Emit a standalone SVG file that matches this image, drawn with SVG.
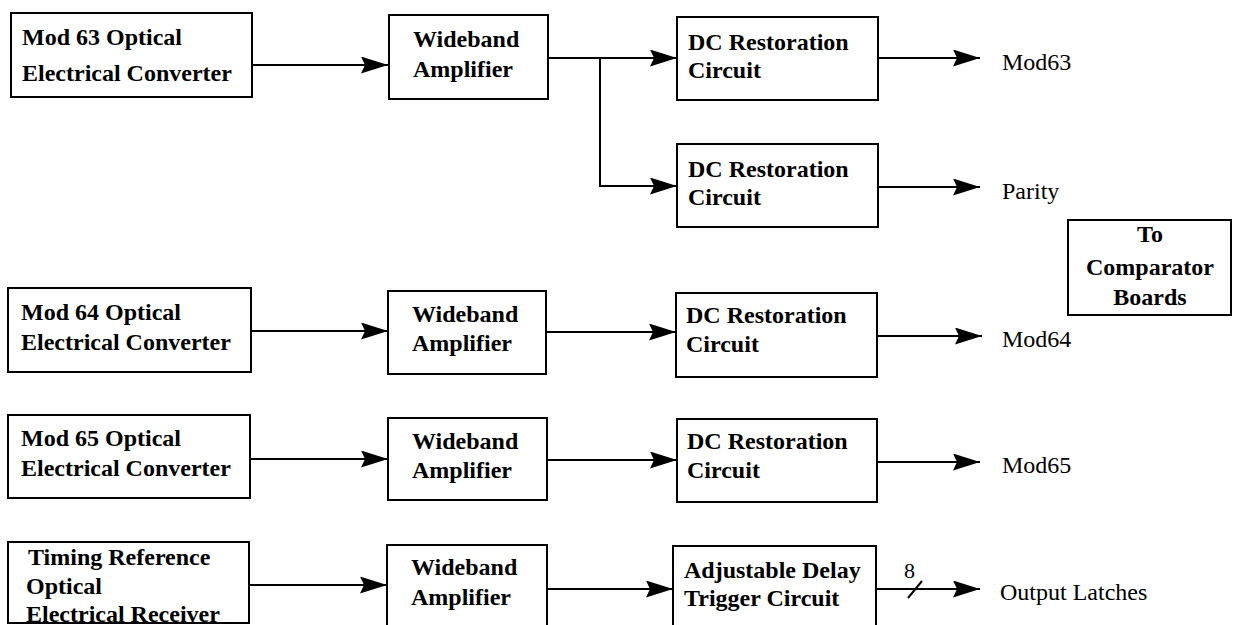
<svg xmlns="http://www.w3.org/2000/svg" width="1233" height="625" viewBox="0 0 1233 625">
<style>
.box{fill:#fff;stroke:#000;stroke-width:2}
.b{font-family:"Liberation Serif","Times New Roman",serif;font-weight:bold;font-size:24px;fill:#000}
.r{font-family:"Liberation Serif","Times New Roman",serif;font-size:24px;fill:#000}
.c{stroke:#000;stroke-width:2;fill:none}
.a{marker-end:url(#ah)}
</style>
<defs>
<marker id="ah" markerUnits="userSpaceOnUse" viewBox="0 0 27 17" refX="27" refY="8.5" markerWidth="27" markerHeight="17" orient="auto">
<path d="M0,0 L27,8.5 L0,17 L4,8.5 Z" fill="#000"/>
</marker>
</defs>
<rect width="1233" height="625" fill="#fff"/>
<g id="connectors">
<path class="c a" d="M252,65 H388"/>
<path class="c a" d="M548,58 H677"/>
<path class="c a" d="M600,58 V186 H677"/>
<path class="c a" d="M878,58 H980"/>
<path class="c a" d="M878,187 H980"/>
<path class="c a" d="M251,331 H388"/>
<path class="c a" d="M546,332 H676"/>
<path class="c a" d="M877,336 H982"/>
<path class="c a" d="M250,459 H388"/>
<path class="c a" d="M547,460 H677"/>
<path class="c a" d="M877,462 H980"/>
<path class="c a" d="M249,585 H387"/>
<path class="c a" d="M547,589 H673"/>
<path class="c a" d="M876,589 H980"/>
<path class="c" d="M908,598 L922,581"/>
<text class="r" x="904" y="578" style="font-size:22px">8</text>
</g>
<g id="mod63oec"><rect class="box" x="11" y="13" width="241" height="84"/><text class="b" x="22" y="45">Mod 63 Optical</text><text class="b" x="22" y="81">Electrical Converter</text></g>
<g id="wb1"><rect class="box" x="389" y="15" width="159" height="84"/><text class="b" x="413" y="47">Wideband</text><text class="b" x="413" y="77">Amplifier</text></g>
<g id="dc1"><rect class="box" x="677" y="17" width="201" height="83"/><text class="b" x="688" y="50">DC Restoration</text><text class="b" x="688" y="78">Circuit</text></g>
<g id="dc2"><rect class="box" x="677" y="144" width="201" height="83"/><text class="b" x="688" y="177">DC Restoration</text><text class="b" x="688" y="205">Circuit</text></g>
<g id="out-mod63"><text class="r" x="1002" y="70">Mod63</text></g>
<g id="out-parity"><text class="r" x="1002" y="199">Parity</text></g>
<g id="comparator"><rect class="box" x="1068" y="220" width="163" height="95"/><text class="b" x="1150" y="242" text-anchor="middle">To</text><text class="b" x="1150" y="275" text-anchor="middle">Comparator</text><text class="b" x="1150" y="305" text-anchor="middle">Boards</text></g>
<g id="mod64oec"><rect class="box" x="8" y="288" width="243" height="84"/><text class="b" x="21" y="320">Mod 64 Optical</text><text class="b" x="21" y="350">Electrical Converter</text></g>
<g id="wb2"><rect class="box" x="388" y="291" width="158" height="83"/><text class="b" x="412" y="322">Wideband</text><text class="b" x="412" y="351">Amplifier</text></g>
<g id="dc3"><rect class="box" x="676" y="293" width="201" height="84"/><text class="b" x="686" y="323">DC Restoration</text><text class="b" x="686" y="352">Circuit</text></g>
<g id="out-mod64"><text class="r" x="1002" y="347">Mod64</text></g>
<g id="mod65oec"><rect class="box" x="8" y="415" width="242" height="83"/><text class="b" x="21" y="446">Mod 65 Optical</text><text class="b" x="21" y="476">Electrical Converter</text></g>
<g id="wb3"><rect class="box" x="388" y="418" width="159" height="82"/><text class="b" x="412" y="449">Wideband</text><text class="b" x="412" y="478">Amplifier</text></g>
<g id="dc4"><rect class="box" x="677" y="419" width="200" height="83"/><text class="b" x="687" y="449">DC Restoration</text><text class="b" x="687" y="478">Circuit</text></g>
<g id="out-mod65"><text class="r" x="1002" y="473">Mod65</text></g>
<g id="timing"><rect class="box" x="8" y="542" width="241" height="81"/><text class="b" x="28" y="565">Timing Reference</text><text class="b" x="26" y="594">Optical</text><text class="b" x="26" y="622">Electrical Receiver</text><line class="c" x1="8" y1="623" x2="249" y2="623"/></g>
<g id="wb4"><rect class="box" x="387" y="545" width="160" height="90"/><text class="b" x="411" y="575">Wideband</text><text class="b" x="411" y="605">Amplifier</text></g>
<g id="adj"><rect class="box" x="673" y="546" width="203" height="90"/><text class="b" x="684" y="578">Adjustable Delay</text><text class="b" x="684" y="606">Trigger Circuit</text></g>
<g id="out-latches"><text class="r" x="1000" y="600">Output Latches</text></g>
</svg>
